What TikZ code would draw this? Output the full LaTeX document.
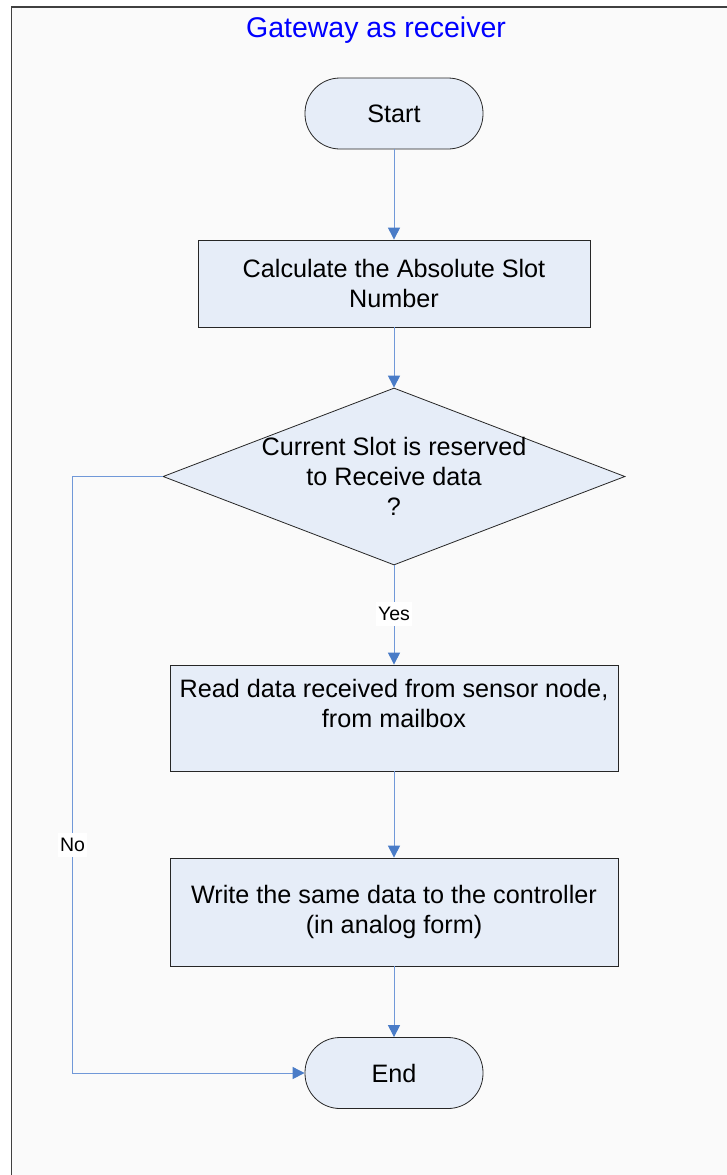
\documentclass[tikz,border=0pt]{standalone}
\usepackage{fontspec}
\setmainfont{Liberation Sans}
\usetikzlibrary{shapes.geometric,arrows.meta}
\definecolor{bgc}{HTML}{FAFAFA}
\definecolor{fillc}{HTML}{E6EDF8}
\definecolor{linec}{HTML}{7098D8}
\definecolor{arrc}{HTML}{4A7CC7}
\definecolor{framec}{HTML}{404040}
\begin{document}
\begin{tikzpicture}[x=1pt,y=-1pt,
  shapebox/.style={draw=black!85, fill=fillc, line width=0.8pt, inner sep=0pt},
  txt/.style={align=center, font=\fontsize{25.2}{29.8}\selectfont, inner sep=0pt},
  term/.style={shapebox, txt, rounded corners=35pt, minimum width=178pt, minimum height=71pt},
  proc/.style={shapebox, txt},
  dia/.style={shapebox, diamond, minimum width=462pt, minimum height=177pt},
  flow/.style={draw=linec, line width=1pt, -{Triangle[length=12pt,width=12pt,color=arrc,fill=arrc]}},
  lab/.style={fill=white, inner xsep=2pt, inner ysep=5pt, font=\fontsize{19.5}{22}\selectfont}]
\useasboundingbox (0,0) rectangle (727,1175);
\fill[white] (0,0) rectangle (727,1175);
\draw[framec, fill=bgc, line width=1.5pt] (11.5,7) rectangle (745,1195);
\node[font=\fontsize{28.5}{34}\selectfont, text=blue] (title) at (376,30) {Gateway as receiver};
\node[term] (start) at (394,113.5) {Start};
\node[proc, minimum width=392pt, minimum height=87pt] (b1) at (394,283.5) {Calculate the Absolute Slot\\Number};
\node[dia] (d) at (394,476.5) {};
\node[txt] (dt) at (394,476.5) {Current Slot is reserved\\to Receive data\\?};
\node[proc, minimum width=448pt, minimum height=106pt] (b2) at (394,718) {Read data received from sensor node,\\from mailbox\\\mbox{}};
\node[proc, minimum width=448pt, minimum height=108pt] (b3) at (394,912) {Write the same data to the controller\\(in analog form)};
\node[term] (end) at (394,1073) {End};
\draw[flow] (start.south) -- (b1.north);
\draw[flow] (b1.south) -- (d.north);
\draw[flow] (d.south) -- node[lab, pos=0.49] {Yes} (b2.north);
\draw[flow] (b2.south) -- (b3.north);
\draw[flow] (b3.south) -- (end.north);
\draw[flow] (d.west) -- ++(-90,0) |- node[lab, pos=0.309] {No} (end.west);
\end{tikzpicture}
\end{document}
